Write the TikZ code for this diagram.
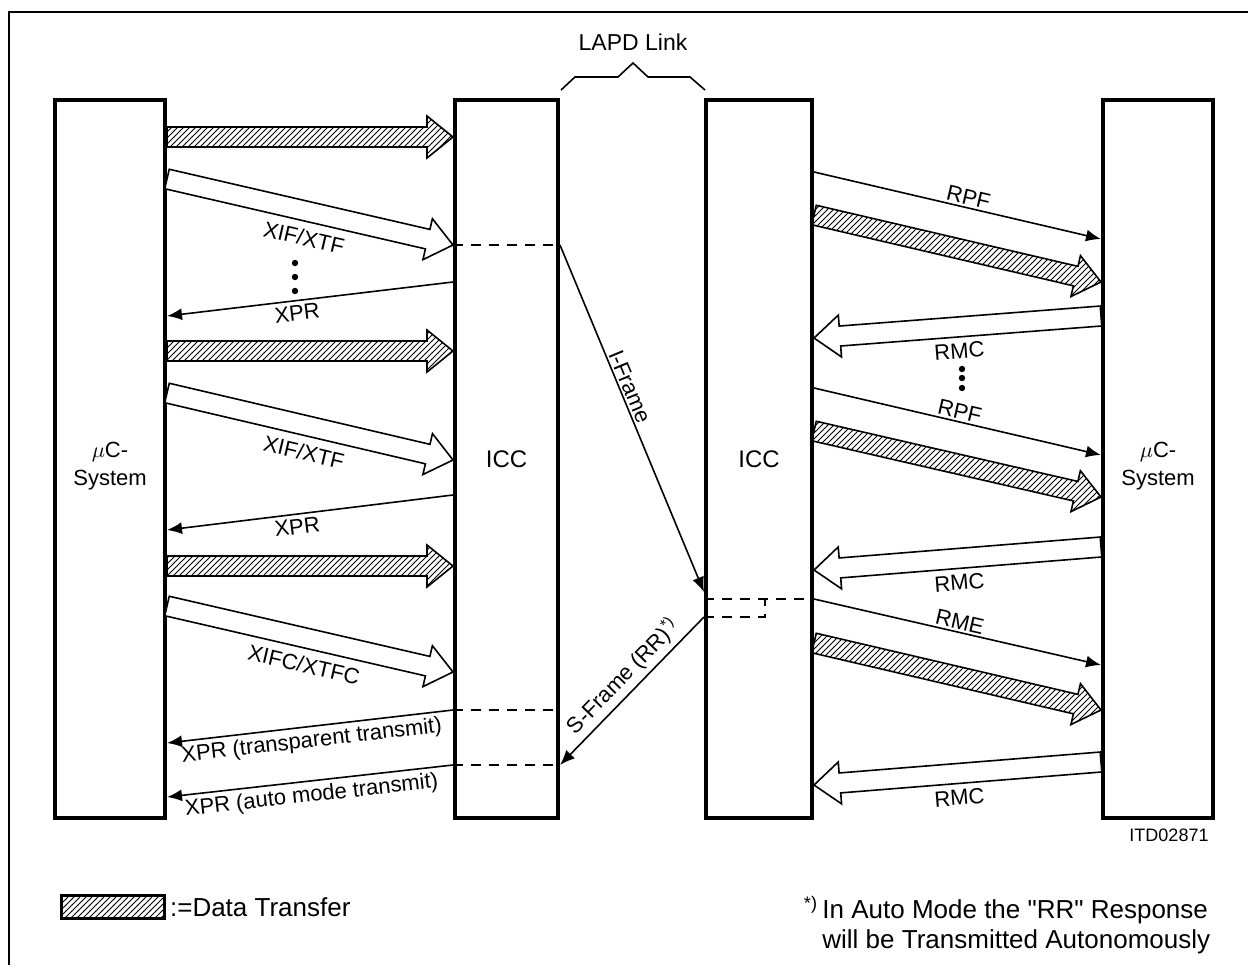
\documentclass[tikz,border=0pt]{standalone}
\usepackage{fontspec}
\setmainfont{Liberation Sans}
\newfontfamily\notefont{Liberation Sans}
\usetikzlibrary{positioning,calc,arrows.meta,patterns}

\tikzset{
  box/.style={draw,line width=2pt,minimum height=359pt,align=center,font=\fontsize{12}{14}\selectfont},
  msg/.style={line width=.8pt,-{Latex[length=7.5pt,width=6pt]}},
  lbl/.style={font=\fontsize{11}{13}\selectfont,inner sep=1pt},
  dashln/.style={line width=.8pt,dash pattern=on 5pt off 4pt},
  hatch/.style={pattern=north east lines},
}

% wide arrow, #2 = start, #3 = tip
\newcommand\fatarrow[3][]{%
  \coordinate (fS) at (#2);
  \coordinate (fT) at (#3);
  \coordinate (fH) at ($(fT)!13pt!(fS)$);
  \draw[line width=.8pt,fill=white,#1]
    ($(fS)!5pt!90:(fT)$) -- ($(fH)!5pt!90:(fT)$) -- ($(fH)!10.5pt!90:(fT)$)
    -- (fT) -- ($(fH)!10.5pt!-90:(fT)$) -- ($(fH)!5pt!-90:(fT)$)
    -- ($(fS)!5pt!-90:(fT)$) -- cycle;
}
\newcommand\musys{\fontsize{11}{14}\selectfont\raisebox{-6pt}[0pt][0pt]{\begin{tabular}{@{}c@{}}$\mu$C-\\System\end{tabular}}}

\begin{document}
\begin{tikzpicture}[x=0.5pt,y=-0.5pt]
\useasboundingbox (0,0) rectangle (1248,965);
\draw[line width=.8pt] (8,12) -- (1248,12);
\draw[line width=.8pt] (9,12) -- (9,965);

% the four blocks
\node[box,minimum width=55pt] (muL) at (110,459) {\musys};
\node[box,minimum width=51.5pt] (iccL) at (506.5,459) {ICC};
\node[box,minimum width=53pt] (iccR) at (759,459) {ICC};
\node[box,minimum width=55pt] (muR) at (1158,459) {\musys};

% LAPD link
\node[lbl,font=\fontsize{11.5}{13}\selectfont] (lapd) at (633,42) {LAPD Link};
\draw[line width=.8pt] (561,90) -- (575,77) -- (618,77) -- (633,63) -- (648,77) -- (690,77) -- (705,90);

% left side
\fatarrow[hatch]{muL.east |- 0,137}{iccL.west |- 0,137}
\fatarrow{muL.east |- 0,179}{iccL.west |- 0,245}
\path (fS) -- (fT) node[lbl,midway,sloped,below=8pt] (xif1) {XIF/XTF};
\fill (295,263) circle (1.6pt) (295,277) circle (1.6pt) (295,291) circle (1.6pt);
\draw[msg] (iccL.west |- 0,282) -- (muL.east |- 0,316) node[lbl,pos=.55,sloped,below=1pt] (xpr1) {XPR};
\fatarrow[hatch]{muL.east |- 0,351}{iccL.west |- 0,351}
\fatarrow{muL.east |- 0,393}{iccL.west |- 0,460}
\path (fS) -- (fT) node[lbl,midway,sloped,below=8pt] (xif2) {XIF/XTF};
\draw[msg] (iccL.west |- 0,495) -- (muL.east |- 0,530) node[lbl,pos=.55,sloped,below=1pt] (xpr2) {XPR};
\fatarrow[hatch]{muL.east |- 0,566}{iccL.west |- 0,566}
\fatarrow{muL.east |- 0,606}{iccL.west |- 0,672}
\path (fS) -- (fT) node[lbl,midway,sloped,below=8pt] (xifc) {XIFC/XTFC};
\draw[msg] (iccL.west |- 0,710) -- (muL.east |- 0,743) node[lbl,midway,sloped,below=1pt] (xpr3) {XPR (transparent transmit)};
\draw[msg] (iccL.west |- 0,765) -- (muL.east |- 0,797) node[lbl,midway,sloped,below=1pt] (xpr4) {XPR (auto mode transmit)};
\draw[dashln] (iccL.west |- 0,245) -- (iccL.east |- 0,245);
\draw[dashln] (iccL.west |- 0,710) -- (iccL.east |- 0,710);
\draw[dashln] (iccL.west |- 0,765) -- (iccL.east |- 0,765);

% link frames
\draw[msg] (iccL.east |- 0,245) -- (iccR.west |- 0,592) node[lbl,pos=.42,sloped,above] (ifr) {I-Frame};
\draw[msg] (iccR.west |- 0,617) -- (iccL.east |- 0,765) node[lbl,pos=.48,sloped,above=1pt] (sfr) {S-Frame (RR)\textsuperscript{*)}};
\draw[dashln] (iccR.west |- 0,599) -- (iccR.east |- 0,599);
\draw[dashln] (iccR.west |- 0,617) -- (765,617) -- (765,599);

% right side
\draw[msg] (iccR.east |- 0,172) -- (muR.west |- 0,239) node[lbl,pos=.53,sloped,above] (rpf1) {RPF};
\fatarrow[hatch]{iccR.east |- 0,215}{muR.west |- 0,282}
\fatarrow{muR.west |- 0,316}{iccR.east |- 0,338}
\path (fS) -- (fT) node[lbl,midway,sloped,below=7pt] (rmc1) {RMC};
\fill (962,369) circle (1.6pt) (962,378) circle (1.6pt) (962,388) circle (1.6pt);
\draw[msg] (iccR.east |- 0,388) -- (muR.west |- 0,455) node[lbl,midway,sloped,above] (rpf2) {RPF};
\fatarrow[hatch]{iccR.east |- 0,431}{muR.west |- 0,497}
\fatarrow{muR.west |- 0,547}{iccR.east |- 0,570}
\path (fS) -- (fT) node[lbl,midway,sloped,below=7pt] (rmc2) {RMC};
\draw[msg] (iccR.east |- 0,599) -- (muR.west |- 0,665) node[lbl,midway,sloped,above] (rme) {RME};
\fatarrow[hatch]{iccR.east |- 0,643}{muR.west |- 0,710}
\fatarrow{muR.west |- 0,762}{iccR.east |- 0,785}
\path (fS) -- (fT) node[lbl,midway,sloped,below=7pt] (rmc3) {RMC};

\node[font=\fontsize{9}{10}\selectfont] (itd) at (1169,835) {ITD02871};

% legend
\node[draw,line width=1.2pt,hatch,minimum width=51.5pt,minimum height=11.5pt,inner sep=0] (legbox) at (113,907) {};
\node[lbl,font=\fontsize{13}{15}\selectfont,right=1pt of legbox] (legtxt) {:=Data Transfer};
\node[lbl,anchor=north west,align=left,font=\notefont\fontsize{13}{15}\selectfont] (note) at (820,894)
  {\llap{\textsuperscript{*)}\,}In Auto Mode the "RR" Response\\will be Transmitted Autonomously};
\end{tikzpicture}
\end{document}
